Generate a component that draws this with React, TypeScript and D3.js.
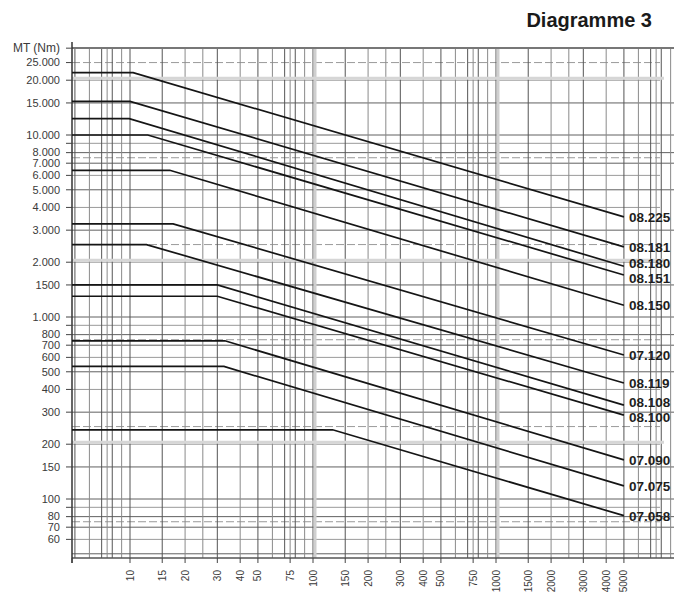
import * as d3 from "d3";

const width = 674;
const height = 593;

// motor series
const series = ["08.225", "08.181", "08.180", "08.151", "08.150", "07.120", "08.119", "08.108", "08.100", "07.090", "07.075", "07.058"];
// constant torque (Nm) on the left part of each curve
const flatTorque = [22000, 15300, 12300, 10000, 6400, 3250, 2500, 1500, 1300, 740, 535, 240];
// speed where the curve starts to fall
const kneeSpeed = [10.4, 10, 9.9, 12.5, 16.5, 17.2, 12.3, 30, 30, 33, 32.6, 128];
// torque at the right end of the curve
const endTorque = [3550, 2430, 1900, 1700, 1160, 618, 434, 328, 289, 164, 118, 81];
const endSpeed = 5000;

const torqueTicks = [25000, 20000, 15000, 10000, 8000, 7000, 6000, 5000, 4000, 3000, 2000, 1500, 1000, 800, 700, 600, 500, 400, 300, 200, 150, 100, 80, 70, 60];
const torqueLabels = ["25.000", "20.000", "15.000", "10.000", "8.000", "7.000", "6.000", "5.000", "4.000", "3.000", "2.000", "1500", "1.000", "800", "700", "600", "500", "400", "300", "200", "150", "100", "80", "70", "60"];
const torqueMinorTicks = [30000, 9000, 900, 90];

const speedTicks = [10, 15, 20, 30, 40, 50, 75, 100, 150, 200, 300, 400, 500, 750, 1000, 1500, 2000, 3000, 4000, 5000];
const speedLabels = ["10", "15", "20", "30", "40", "50", "75", "100", "150", "200", "300", "400", "500", "750", "1000", "1500", "2000", "3000", "4000", "5000"];

const gridMultiples = [1, 1.5, 2, 2.5, 3, 4, 5, 6, 7, 7.5, 8, 9];
const strongMultiples = [1, 1.5, 3, 5, 7, 8];
const decades = [1, 10, 100, 1000, 10000];

const font = "'Liberation Sans', Arial, Helvetica, sans-serif";

export default function App() {
  const left = 72;
  const right = 674;
  const top = 48;
  const bottom = 558;

  const x = d3.scaleLog().domain([10, 1000]).range([130, 496]);
  const y = d3.scaleLog().domain([100, 10000]).range([499, 135]);

  const startSpeed = x.invert(left);

  const vGrid: { v: number; strong: boolean }[] = [];
  const hGrid: { v: number; strong: boolean }[] = [];
  decades.forEach((d) => {
    gridMultiples.forEach((m) => {
      const v = d * m;
      const strong = strongMultiples.includes(m);
      const px = x(v);
      if (px > left + 1 && px < right - 2) vGrid.push({ v, strong });
      const py = y(v);
      if (py > top + 1 && py < bottom - 1) hGrid.push({ v, strong });
    });
  });

  const line = d3
    .line<[number, number]>()
    .x((d) => x(d[0]))
    .y((d) => y(d[1]));

  // spread the labels so they don't collide
  const minGap = 15;
  const labelY = endTorque.map((t) => y(t));
  for (let it = 0; it < 30; it++) {
    for (let i = 1; i < labelY.length; i++) {
      const gap = labelY[i] - labelY[i - 1];
      if (gap < minGap) {
        const shift = (minGap - gap) / 2;
        labelY[i - 1] -= shift;
        labelY[i] += shift;
      }
    }
  }

  return (
    <div style={{ position: "absolute", left: 0, top: 0 }}>
      <svg width={width} height={height} style={{ display: "block", background: "#fff" }}>
        <text x={652} y={27} textAnchor="end" fontFamily={font} fontWeight="bold" fontSize={20} fill="#1a1a1a">
          Diagramme 3
        </text>

        {/* graph paper */}
        <g>
          {hGrid.map((g, i) => (
            <line
              key={"h" + i}
              x1={left}
              x2={g.strong ? right : right - 14}
              y1={y(g.v)}
              y2={y(g.v)}
              stroke={g.strong ? "#606060" : "#9a9a9a"}
              strokeWidth={1}
              strokeDasharray={g.strong ? undefined : i % 3 === 0 ? "8 3" : undefined}
            />
          ))}
          {vGrid.map((g, i) => (
            <line
              key={"v" + i}
              x1={x(g.v)}
              x2={x(g.v)}
              y1={top}
              y2={bottom}
              stroke={g.strong ? "#555" : "#8a8a8a"}
              strokeWidth={1}
            />
          ))}
          {[100, 1000].map((v) => (
            <line key={"band" + v} x1={x(v) + 2} x2={x(v) + 2} y1={top} y2={bottom} stroke="#cfcfcf" strokeWidth={3} />
          ))}
          {[20000, 2000, 200].map((v) => (
            <line key={"hband" + v} x1={left} x2={right - 10} y1={y(v) - 2} y2={y(v) - 2} stroke="#d6d6d6" strokeWidth={3} />
          ))}
          <line x1={left} x2={right} y1={top} y2={top} stroke="#777" strokeWidth={2} />
          <line x1={left} x2={right} y1={bottom} y2={bottom} stroke="#555" strokeWidth={1.5} />
          <line x1={left} x2={left} y1={top - 6} y2={bottom + 5} stroke="#333" strokeWidth={1.5} />
        </g>

        {/* y axis */}
        <g fontFamily={font} fontSize={11} fill="#3a3a3a">
          <text x={60} y={top} dy="0.35em" textAnchor="end" fontSize={12}>
            MT (Nm)
          </text>
          {torqueTicks.map((t, i) => (
            <g key={"yt" + t}>
              <line x1={left - 6} x2={left} y1={y(t)} y2={y(t)} stroke="#444" />
              <text x={60} y={y(t)} dy="0.35em" textAnchor="end">
                {torqueLabels[i]}
              </text>
            </g>
          ))}
          {torqueMinorTicks.map((t) => (
            <line key={"ym" + t} x1={left - 6} x2={left} y1={y(t)} y2={y(t)} stroke="#444" />
          ))}
        </g>

        {/* x axis */}
        <g fontFamily={font} fontSize={10} fill="#3a3a3a">
          <line x1={left} x2={left} y1={bottom} y2={bottom + 5} stroke="#444" />
          {speedTicks.map((s, i) => (
            <g key={"xt" + s}>
              <line x1={x(s)} x2={x(s)} y1={bottom} y2={bottom + 5} stroke="#444" />
              <text transform={`translate(${x(s)},${bottom + 12}) rotate(-90)`} dy="0.35em" textAnchor="end">
                {speedLabels[i]}
              </text>
            </g>
          ))}
        </g>

        {/* torque curves */}
        <g>
          {series.map((s, i) => (
            <path
              key={s}
              d={line([
                [startSpeed, flatTorque[i]],
                [kneeSpeed[i], flatTorque[i]],
                [endSpeed, endTorque[i]],
              ]) || ""}
              fill="none"
              stroke="#151515"
              strokeWidth={1.7}
            />
          ))}
        </g>

        <g fontFamily={font} fontWeight="bold" fontSize={13.5} fill="#1e1e1e">
          {series.map((s, i) => (
            <text key={"l" + s} x={x(endSpeed) + 5} y={labelY[i]} dy="0.36em">
              {s}
            </text>
          ))}
        </g>
      </svg>
    </div>
  );
}
